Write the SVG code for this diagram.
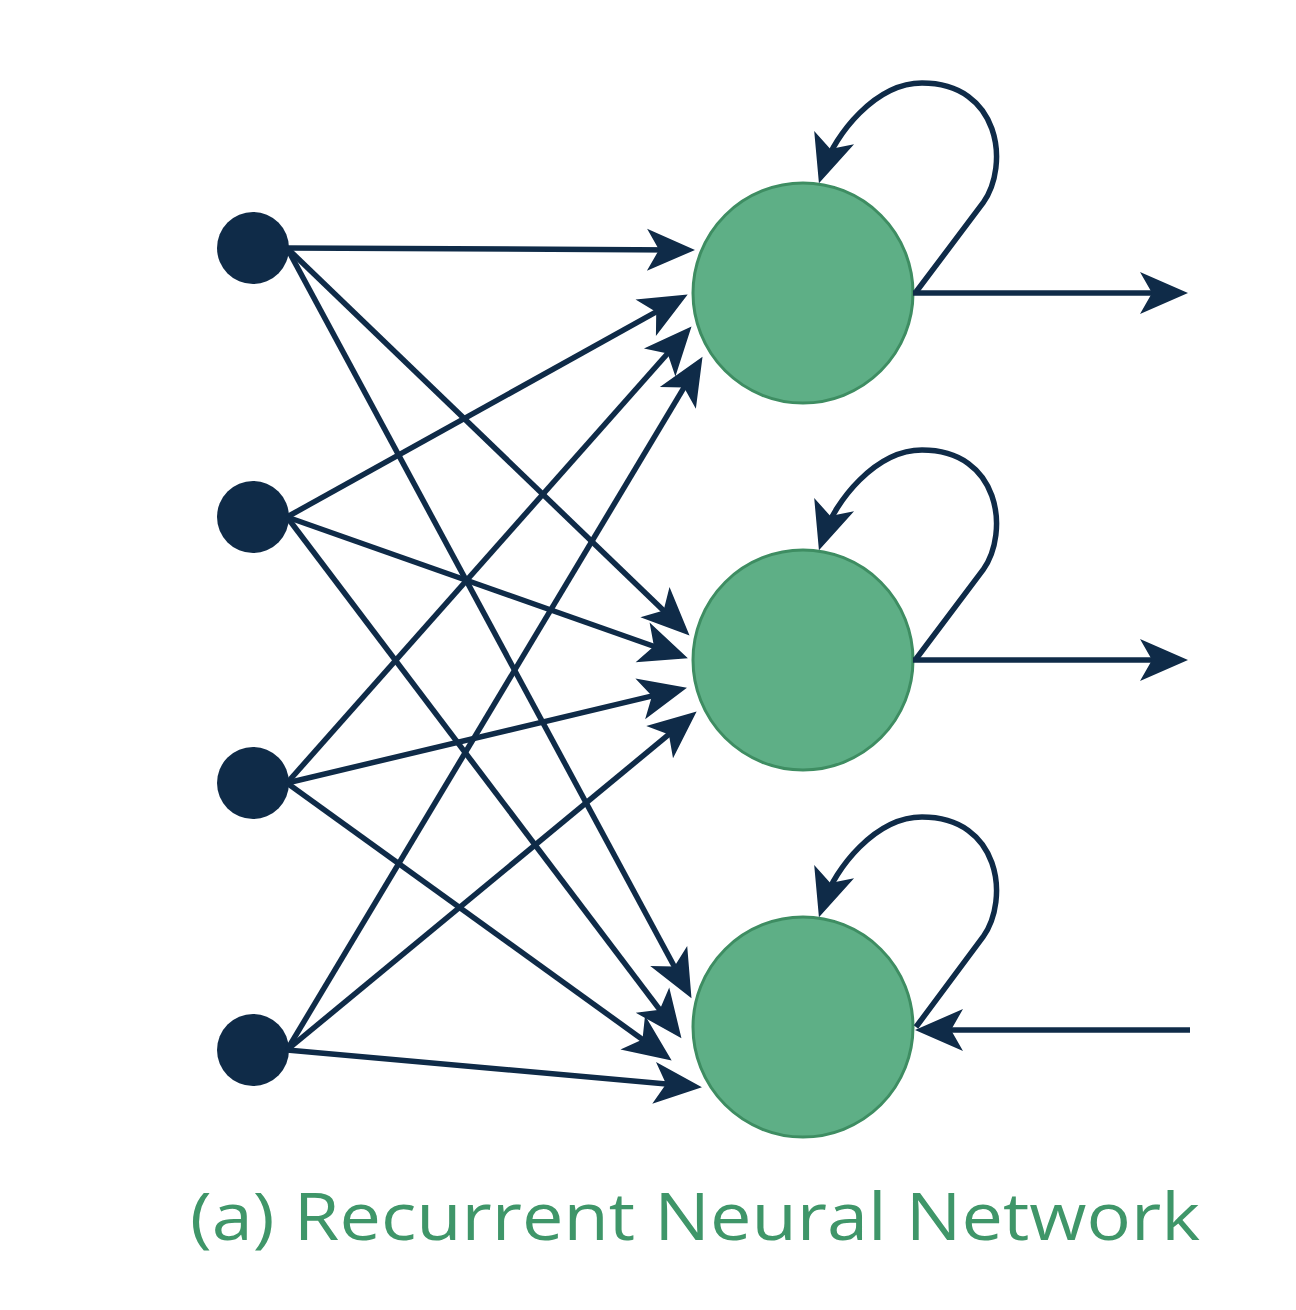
<svg xmlns="http://www.w3.org/2000/svg" width="1296" height="1310" viewBox="0 0 1296 1310">
<defs>
<style>
.in{fill:#0f2b48}
.hid{fill:#5eaf86;stroke:#3e8d62;stroke-width:3}
.edge{fill:none;stroke:#0f2b48;stroke-width:5.5}
.cap{font-family:"Open Sans","Liberation Sans",sans-serif;font-size:66px;fill:#3f9669}
</style>
<marker id="ah" markerUnits="userSpaceOnUse" viewBox="0 0 48 42" refX="32" refY="21" markerWidth="48" markerHeight="42" orient="auto" overflow="visible">
<path d="M0,0 L48,21 L0,42 L12,21 Z" fill="#0f2b48"/>
</marker>
</defs>
<rect width="1296" height="1310" fill="#ffffff"/>
<g id="nodes">
<g id="x1"><circle class="in" cx="253" cy="248" r="36"/></g>
<g id="x2"><circle class="in" cx="253" cy="517" r="36"/></g>
<g id="x3"><circle class="in" cx="253" cy="783" r="36"/></g>
<g id="x4"><circle class="in" cx="253" cy="1050" r="36"/></g>
<g id="h1"><circle class="hid" cx="803" cy="293" r="110"/></g>
<g id="h2"><circle class="hid" cx="803" cy="660" r="110"/></g>
<g id="h3"><circle class="hid" cx="803" cy="1027" r="110"/></g>
</g>
<g id="connectors">
<path class="edge" marker-end="url(#ah)" d="M287,248 L679,249.9"/>
<path class="edge" marker-end="url(#ah)" d="M287,248 L678,624.4"/>
<path class="edge" marker-end="url(#ah)" d="M287,248 L683.9,984.2"/>
<path class="edge" marker-end="url(#ah)" d="M287,517 L673.7,302.2"/>
<path class="edge" marker-end="url(#ah)" d="M287,517 L672.8,653"/>
<path class="edge" marker-end="url(#ah)" d="M287,517 L671.8,1025.6"/>
<path class="edge" marker-end="url(#ah)" d="M287,783 L680.9,338.5"/>
<path class="edge" marker-end="url(#ah)" d="M287,783 L671.4,691.4"/>
<path class="edge" marker-end="url(#ah)" d="M287,783 L658.7,1051.2"/>
<path class="edge" marker-end="url(#ah)" d="M287,1050 L694.3,370.4"/>
<path class="edge" marker-end="url(#ah)" d="M287,1050 L684.3,721.7"/>
<path class="edge" marker-end="url(#ah)" d="M287,1050 L686,1085.7"/>
<path class="edge" marker-end="url(#ah)" d="M916,292 L983,203 C1010,165 1000,83 922,83 C875,83 835,135 824,168"/>
<path class="edge" marker-end="url(#ah)" d="M916,659 L983,570 C1010,532 1000,450 922,450 C875,450 835,502 824,535"/>
<path class="edge" marker-end="url(#ah)" d="M916,1027 L983,937 C1010,899 1000,817 922,817 C875,817 835,869 824,902"/>
<path class="edge" marker-end="url(#ah)" d="M913,293 L1172,293"/>
<path class="edge" marker-end="url(#ah)" d="M913,660 L1172,660"/>
<path class="edge" marker-end="url(#ah)" d="M1190,1030 L931,1030"/>
</g>
<text class="cap" x="190" y="1240" textLength="1010" lengthAdjust="spacingAndGlyphs">(a) Recurrent Neural Network</text>
</svg>
